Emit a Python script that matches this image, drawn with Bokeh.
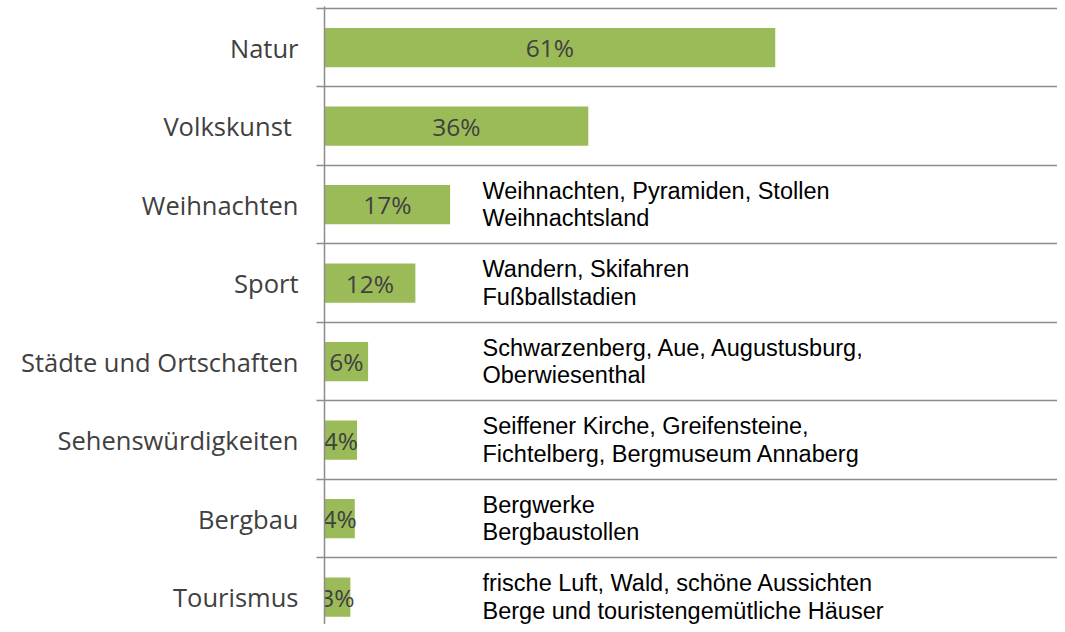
from bokeh.plotting import figure
from bokeh.models import ColumnDataSource, Range1d, FixedTicker
from bokeh.core.properties import value
from bokeh.embed import file_html
from bokeh.resources import INLINE

categories = ["Natur", "Volkskunst ", "Weihnachten", "Sport", "Städte und Ortschaften",
              "Sehenswürdigkeiten", "Bergbau", "Tourismus"]
values = [61.0, 35.7, 17.0, 12.3, 5.9, 4.4, 4.1, 3.5]
value_labels = ["61%", "36%", "17%", "12%", "6%", "4%", "4%", "3%"]
notes = ["", "",
         "Weihnachten, Pyramiden,  Stollen\nWeihnachtsland",
         "Wandern, Skifahren\nFußballstadien",
         "Schwarzenberg, Aue, Augustusburg,\nOberwiesenthal",
         "Seiffener Kirche, Greifensteine,\nFichtelberg, Bergmuseum Annaberg",
         "Bergwerke\nBergbaustollen",
         "frische Luft, Wald, schöne Aussichten\nBerge und touristengemütliche Häuser"]

pos = list(range(len(categories)))
src = ColumnDataSource(dict(y=pos, v=values, mid=[v / 2 for v in values],
                            lab=value_labels, note=notes))

p = figure(width=1057, height=624, output_backend="svg", toolbar_location=None,
           x_range=Range1d(0, 99.2), y_range=Range1d(7.348, -0.525),
           min_border_left=324, min_border_top=6, min_border_bottom=0, min_border_right=0,
           outline_line_color=None)

p.hbar(y="y", left=0, right="v", height=0.5, source=src,
       fill_color="#9BBB59", line_color=None)

p.text(x="mid", y="y", text="lab", source=src, text_align="center", text_baseline="middle",
       text_font=value("Open Sans"), text_font_size="24.5px", text_color="#404040")

p.text(x=0, y="y", text="note", source=src, x_offset=158, text_align="left",
       text_baseline="middle", text_font=value("Liberation Sans"), text_font_size="23.5px",
       text_color="#000000", text_line_height=1.06)

p.xaxis.visible = False
p.xgrid.grid_line_color = None

ticker = FixedTicker(ticks=pos, minor_ticks=[i - 0.5 for i in pos])
p.yaxis.ticker = ticker
p.yaxis.major_label_overrides = {i: c for i, c in enumerate(categories)}
p.yaxis.major_tick_line_color = None
p.yaxis.major_tick_out = 0
p.yaxis.major_tick_in = 0
p.yaxis.minor_tick_out = 8
p.yaxis.minor_tick_in = 0
p.yaxis.minor_tick_line_color = "#8c8c8c"
p.yaxis.minor_tick_line_width = 1.5
p.yaxis.axis_line_color = "#8c8c8c"
p.yaxis.axis_line_width = 1.5
p.yaxis.major_label_standoff = 18
p.yaxis.major_label_text_font = "Open Sans"
p.yaxis.major_label_text_font_size = "25.5px"
p.yaxis.major_label_text_color = "#404040"

p.ygrid.ticker = ticker
p.ygrid.grid_line_color = None
p.ygrid.minor_grid_line_color = "#8c8c8c"
p.ygrid.minor_grid_line_width = 1.5

open("out.html", "w").write(file_html(p, INLINE))
